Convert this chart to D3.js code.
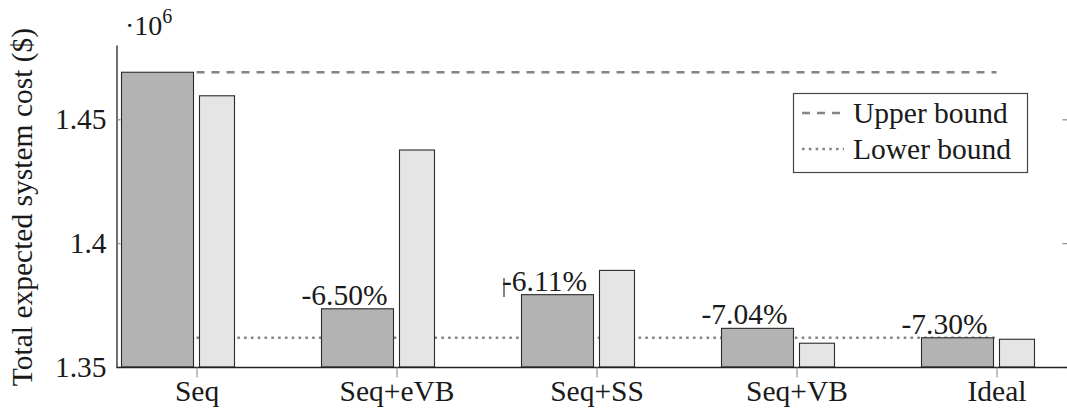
<!DOCTYPE html>
<html>
<head>
<meta charset="utf-8">
<script src="https://cdn.jsdelivr.net/npm/d3@7"></script>
<style>
  html, body { margin: 0; padding: 0; background: #fff; }
  #costfig { display: block; }
  #costfig text { font-family: "Liberation Serif", serif !important; }
</style>
</head>
<body>
<svg id="costfig" width="1067" height="412"></svg>
<script>
// Total expected system cost per strategy, in millions of dollars
const categories   = ["Seq", "Seq+eVB", "Seq+SS", "Seq+VB", "Ideal"];
const darkValues   = [1.469, 1.3735, 1.3792, 1.3656, 1.3618];
const lightValues  = [1.4595, 1.4376, 1.389, 1.3596, 1.3612];
const changeLabels = [null, "-6.50%", "-6.11%", "-7.04%", "-7.30%"];
const upperBound   = 1.469;
const lowerBound   = 1.3618;
const yTicks       = [1.35, 1.4, 1.45];
const yTickLabels  = ["1.35", "1.4", "1.45"];
const legendItems  = ["Upper bound", "Lower bound"];

const FONT = '"Liberation Serif"';
const FS = 29.5;
const INK = "#1a1a1a";
const svg = d3.select("#costfig");

function styleText(sel, size) {
  return sel.style("font-family", FONT).style("font-size", (size || FS) + "px").style("fill", INK);
}

const plot = { left: 116.5, right: 1067.5, top: 45, bottom: 367 };

const y = d3.scaleLinear().domain([1.35, 1.48]).range([plot.bottom, plot.top]);
const x = d3.scalePoint().domain(categories).range([196.5, 996.5]);

// Bound lines sit behind the bars
const boundsG = svg.append("g");
boundsG.append("line")
  .attr("x1", x(categories[0])).attr("x2", x(categories[categories.length - 1]))
  .attr("y1", y(upperBound)).attr("y2", y(upperBound))
  .attr("stroke", "#858585").attr("stroke-width", 2.6)
  .attr("stroke-dasharray", "8,7");
boundsG.append("line")
  .attr("x1", x(categories[0])).attr("x2", x(categories[categories.length - 1]))
  .attr("y1", y(lowerBound)).attr("y2", y(lowerBound))
  .attr("stroke", "#858585").attr("stroke-width", 2.6)
  .attr("stroke-dasharray", "2.6,4.2");

// Bars
const barsG = svg.append("g");
barsG.selectAll("rect.dark").data(categories).join("rect")
  .attr("class", "dark")
  .attr("x", d => x(d) - 75)
  .attr("width", 72)
  .attr("y", (d, i) => y(darkValues[i]))
  .attr("height", (d, i) => y(1.35) - y(darkValues[i]))
  .attr("fill", "#b3b3b3").attr("stroke", "#2b2b2b").attr("stroke-width", 1.1);
barsG.selectAll("rect.light").data(categories).join("rect")
  .attr("class", "light")
  .attr("x", d => x(d) + 3)
  .attr("width", 35)
  .attr("y", (d, i) => y(lightValues[i]))
  .attr("height", (d, i) => y(1.35) - y(lightValues[i]))
  .attr("fill", "#e5e5e5").attr("stroke", "#2b2b2b").attr("stroke-width", 1.1);

// Relative change labels above the dark bars
const labelData = categories.map((c, i) => ({ c, v: darkValues[i], t: changeLabels[i] }))
  .filter(d => d.t !== null);
styleText(svg.append("g").selectAll("text").data(labelData).join("text")
  .attr("x", d => x(d.c) - 52)
  .attr("y", d => y(d.v) - 4)
  .attr("text-anchor", "middle")
  .text(d => d.t));

// small stray mark at the Seq+SS label
svg.append("line")
  .attr("x1", x("Seq+SS") - 92.5).attr("x2", x("Seq+SS") - 92.5)
  .attr("y1", 278).attr("y2", 297)
  .attr("stroke", "#333").attr("stroke-width", 1.2);

// Left axis
const yAxis = svg.append("g")
  .attr("transform", `translate(${plot.left},0)`)
  .call(d3.axisLeft(y).tickValues(yTicks).tickFormat((d, i) => yTickLabels[i])
    .tickSize(-4).tickSizeOuter(0).tickPadding(10));
yAxis.attr("font-family", null).attr("font-size", null);
yAxis.select(".domain").attr("stroke", "#222").attr("stroke-width", 1.3);
yAxis.selectAll(".tick line").attr("stroke", "#8a8a8a").attr("stroke-width", 1.2);
styleText(yAxis.selectAll(".tick text"));

// Right side ticks
const yAxisR = svg.append("g")
  .attr("transform", `translate(${plot.right},0)`)
  .call(d3.axisRight(y).tickValues(yTicks).tickFormat("").tickSize(-5).tickSizeOuter(0));
yAxisR.select(".domain").remove();
yAxisR.selectAll(".tick line").attr("stroke", "#8a8a8a").attr("stroke-width", 1.2);

// Bottom axis
svg.append("line")
  .attr("x1", plot.left).attr("x2", plot.right)
  .attr("y1", plot.bottom + 0.5).attr("y2", plot.bottom + 0.5)
  .attr("stroke", "#222").attr("stroke-width", 1.3);
const xAxis = svg.append("g")
  .attr("transform", `translate(0,${plot.bottom + 0.5})`)
  .call(d3.axisBottom(x).tickSize(10).tickSizeOuter(0).tickPadding(3));
xAxis.attr("font-family", null).attr("font-size", null);
xAxis.select(".domain").remove();
xAxis.selectAll(".tick line").attr("stroke", "#9a9a9a").attr("stroke-width", 1.2);
styleText(xAxis.selectAll(".tick text"));

// Scale multiplier
const mult = styleText(svg.append("text").attr("x", 125).attr("y", 35), 28);
mult.append("tspan").text("·10");
mult.append("tspan").attr("dy", -12).style("font-size", "20px").text("6");

// Y axis title
styleText(svg.append("text")
  .attr("transform", "translate(32,207) rotate(-90)")
  .attr("text-anchor", "middle")
  .text("Total expected system cost ($)"));

// Legend
const lg = svg.append("g");
lg.append("rect")
  .attr("x", 793.5).attr("y", 93.5).attr("width", 234).attr("height", 79)
  .attr("fill", "#fff").attr("stroke", "#444").attr("stroke-width", 1.2);
const dashes = ["8,7", "2.6,4.2"];
legendItems.forEach((name, i) => {
  const ly = 113 + i * 36;
  lg.append("line")
    .attr("x1", 802).attr("x2", 844).attr("y1", ly).attr("y2", ly)
    .attr("stroke", "#858585").attr("stroke-width", 2.6)
    .attr("stroke-dasharray", dashes[i]);
  styleText(lg.append("text")
    .attr("x", 853).attr("y", ly + 10)
    .text(name));
});
</script>
</body>
</html>
